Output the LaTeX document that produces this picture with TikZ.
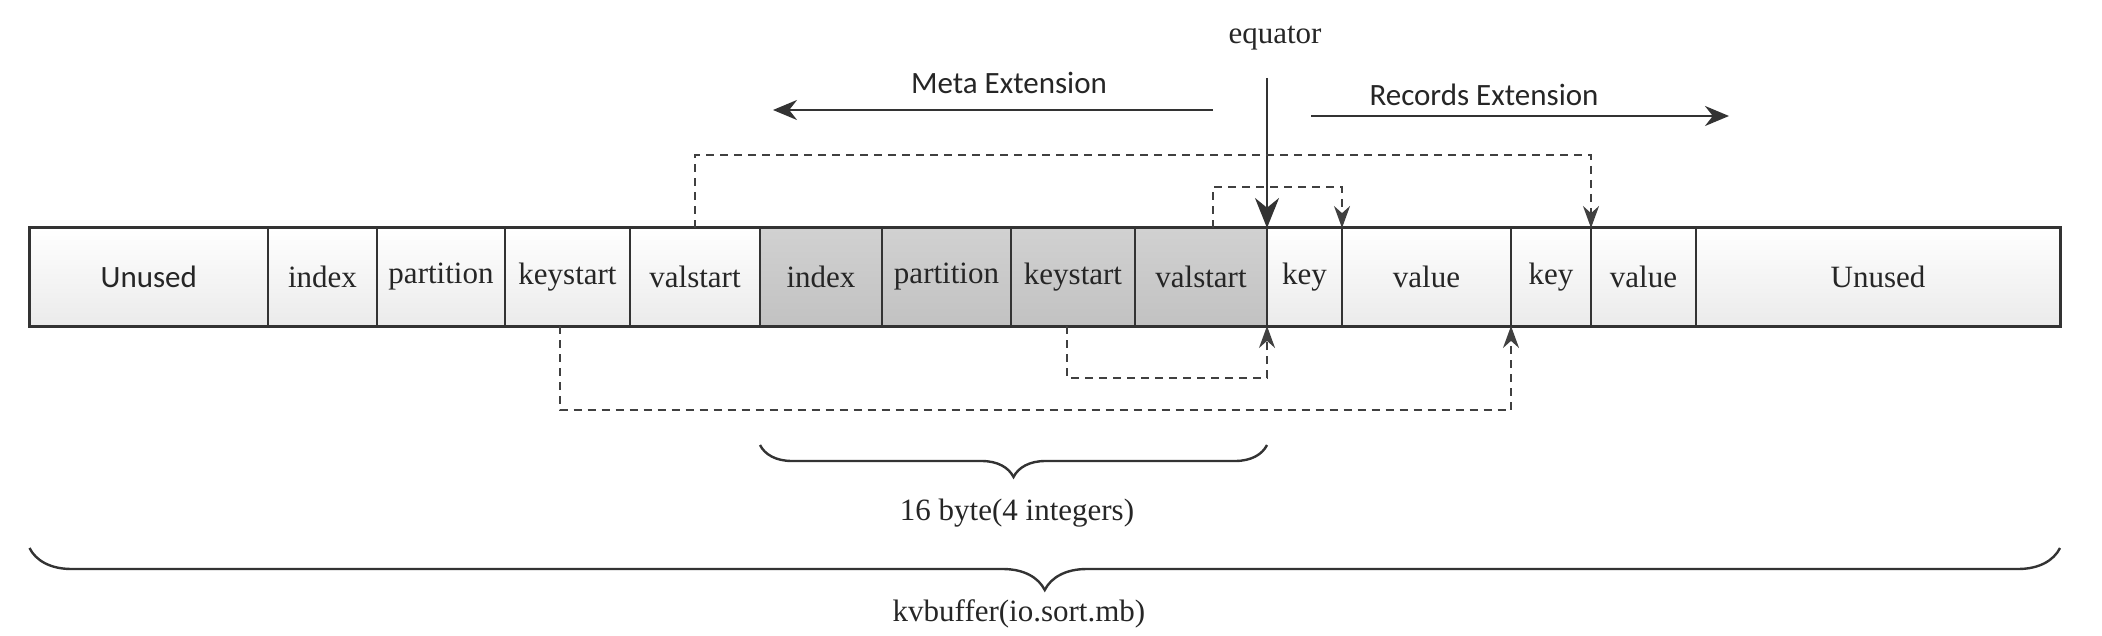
\documentclass[tikz,border=0pt]{standalone}
\usepackage{fontspec}
\setmainfont{Liberation Serif}
\newfontfamily\labsans{Carlito}
\usetikzlibrary{arrows.meta,decorations.pathreplacing,calc}
\begin{document}
\begin{tikzpicture}[x=0.5pt,y=-0.5pt,
  txt/.style={font=\fontsize{15.5}{18}\selectfont, text=black!85},
  stxt/.style={font=\labsans\fontsize{15.5}{18}\selectfont, text=black!85},
  cell/.style={draw=black!80, line width=1pt, minimum height=49pt, inner sep=0pt, outer sep=0pt,
    anchor=west, top color=white, bottom color=gray!16, font=\fontsize{15.5}{18}\selectfont, text=black!85},
  dark/.style={top color=gray!36, bottom color=gray!48},
  dashlink/.style={draw=black!75, line width=1pt, dash pattern=on 4pt off 3pt, -{Stealth[length=11pt,width=8pt]}},
  extarrow/.style={draw=black!80, line width=1.2pt, -{Stealth[length=12pt,width=10pt]}},
  bracestyle/.style={draw=black!80, line width=1.2pt, decorate, decoration={brace, mirror, amplitude=#1}}
]
\useasboundingbox (0,0) rectangle (2102,636);

% cells
\node[cell, minimum width=119.25pt, font=\labsans\fontsize{15.5}{18}\selectfont] (c1) at (29.5,277) {Unused};
\node[cell, minimum width=54.5pt] (c2) at (c1.east) {index};
\node[cell, minimum width=64pt] (c3) at (c2.east) {partition};
\node[cell, minimum width=62.5pt] (c4) at (c3.east) {keystart};
\node[cell, minimum width=65pt] (c5) at (c4.east) {valstart};
\node[cell, dark, minimum width=61pt] (c6) at (c5.east) {index};
\node[cell, dark, minimum width=64.5pt] (c7) at (c6.east) {partition};
\node[cell, dark, minimum width=62pt] (c8) at (c7.east) {keystart};
\node[cell, dark, minimum width=66pt] (c9) at (c8.east) {valstart};
\node[cell, minimum width=37.5pt] (c10) at (c9.east) {key};
\node[cell, minimum width=84.5pt] (c11) at (c10.east) {value};
\node[cell, minimum width=40pt] (c12) at (c11.east) {key};
\node[cell, minimum width=52.5pt] (c13) at (c12.east) {value};
\node[cell, minimum width=182pt] (c14) at (c13.east) {Unused};
\draw[black!80, line width=1.5pt] (c1.north west) rectangle (c14.south east);

% equator
\node[txt] (eq) at (1275,38) {equator};
\coordinate (eqtop) at (1267,78);
\draw[draw=black!80, line width=1.2pt, -{Stealth[length=15pt,width=12pt]}] (eqtop) -- (c10.north west);

% extensions
\node[stxt] (meta) at (1009,83) {Meta Extension};
\coordinate (ma) at (1213,110);
\coordinate (mb) at (773,110);
\draw[extarrow] (ma) -- (mb);
\node[stxt] (rec) at (1484,95) {Records Extension};
\coordinate (ra) at (1311,116);
\coordinate (rb) at (1729,116);
\draw[extarrow] (ra) -- (rb);

% dashed links
\draw[dashlink] (c5.north) -- ++(0,-73) -| (c13.north west);
\draw[dashlink] ($(c9.north)+(12,0)$) -- ++(0,-41) -| (c11.north west);
\draw[dashlink] ($(c4.south)+(-8,0)$) -- ++(0,84) -| (c12.south west);
\draw[dashlink] ($(c8.south)+(-6,0)$) -- ++(0,52) -| (c10.south west);

% braces
\draw[bracestyle=16pt] ($(c6.south west)+(0,119)$) -- ($(c9.south east)+(0,119)$);
\node[txt] (sixteen) at (1017,513) {16 byte(4 integers)};
\draw[bracestyle=21pt] ($(c1.south west)+(0,222)$) -- ($(c14.south east)+(0,222)$);
\node[txt] (kv) at (1019,614) {kvbuffer(io.sort.mb)};
\end{tikzpicture}
\end{document}
